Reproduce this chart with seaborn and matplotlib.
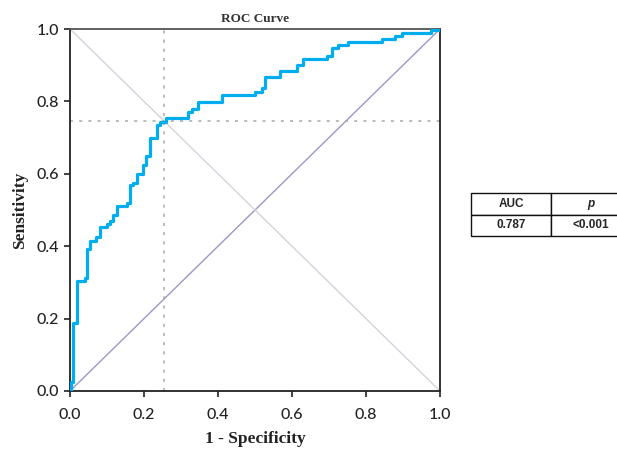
import matplotlib
matplotlib.use("Agg")
import matplotlib.pyplot as plt
import seaborn as sns
import pandas as pd

# ROC corner points (x = 1 - specificity, y = sensitivity)
fpr = [0.000, 0.003, 0.009, 0.018, 0.041, 0.045, 0.054, 0.070, 0.081, 0.099,
       0.108, 0.117, 0.126, 0.153, 0.162, 0.171, 0.180, 0.196, 0.205, 0.216,
       0.234, 0.243, 0.259, 0.320, 0.329, 0.347, 0.410, 0.500, 0.518, 0.527,
       0.568, 0.613, 0.631, 0.694, 0.707, 0.725, 0.752, 0.842, 0.878, 0.896,
       0.977, 1.000]
tpr = [0.000, 0.026, 0.189, 0.304, 0.311, 0.391, 0.415, 0.425, 0.454, 0.461,
       0.470, 0.486, 0.511, 0.518, 0.569, 0.575, 0.599, 0.624, 0.649, 0.698,
       0.735, 0.744, 0.753, 0.772, 0.778, 0.797, 0.818, 0.827, 0.836, 0.868,
       0.885, 0.901, 0.916, 0.925, 0.947, 0.956, 0.963, 0.971, 0.981, 0.988,
       0.997, 1.000]

# cut-off point shown with dotted guides
cut_x = 0.255
cut_y = 0.745

ticks = [0.0, 0.2, 0.4, 0.6, 0.8, 1.0]
tick_labels = ["0.0", "0.2", "0.4", "0.6", "0.8", "1.0"]

table_header = ["AUC", "p"]
table_values = ["0.787", "<0.001"]

roc = pd.DataFrame({"fpr": fpr, "tpr": tpr})

sns.set_style("white")
fig = plt.figure(figsize=(6.17, 4.5), dpi=100)
ax = fig.add_axes([70 / 617, 1 - 391 / 450, 370 / 617, 362 / 450])

# reference lines
ax.plot([0, 1], [0, 1], color="#9a98c8", lw=1.0, zorder=1)
ax.plot([0, 1], [1, 0], color="#d4d2dc", lw=1.0, zorder=1)
ax.axvline(cut_x, color="#a8a8a8", lw=1.1, ls=(0, (2, 4)), zorder=1)
ax.axhline(cut_y, color="#a8a8a8", lw=1.1, ls=(0, (2, 4)), zorder=1)

sns.lineplot(data=roc, x="fpr", y="tpr", ax=ax, color="#00aeef", lw=2.3,
             drawstyle="steps-post", estimator=None, sort=False, zorder=3)

ax.set_xlim(0, 1)
ax.set_ylim(0, 1)
ax.set_xticks(ticks)
ax.set_yticks(ticks)
ax.set_xticklabels(tick_labels, fontsize=11.5, family="Lato", fontweight="medium")
ax.set_yticklabels(tick_labels, fontsize=11.5, family="Lato", fontweight="medium")
ax.tick_params(axis="both", direction="out", length=4, width=1.2, color="#222222",
               bottom=True, left=True, labelcolor="#222222")
ax.tick_params(axis="x", pad=8)
ax.tick_params(axis="y", pad=4)
for side in ["left", "bottom", "right"]:
    ax.spines[side].set_color("#222222")
    ax.spines[side].set_linewidth(1.3)
ax.spines["top"].set_color("#555555")
ax.spines["top"].set_linewidth(1.3)

ax.set_xlabel("1 - Specificity", family="Liberation Serif", fontweight="bold",
              fontsize=12.5, color="#222222", labelpad=7)
ax.set_ylabel("Sensitivity", family="Liberation Serif", fontweight="bold",
              fontsize=12.5, color="#222222", labelpad=6)
ax.set_title("ROC Curve", family="Liberation Serif", fontweight="bold",
             fontsize=9.5, color="#333333", pad=5)

# AUC table on the right
tax = fig.add_axes([471 / 617, 1 - 236 / 450, 160 / 617, 43 / 450])
tax.axis("off")
tbl = tax.table(cellText=[table_header, table_values], cellLoc="center",
                bbox=[0, 0, 1, 1], colWidths=[80, 80])
tbl.auto_set_font_size(False)
for (r, c), cell in tbl.get_celld().items():
    cell.set_edgecolor("#111111")
    cell.set_linewidth(1.0)
    txt = cell.get_text()
    txt.set_fontsize(8.5)
    txt.set_fontweight("bold")
    txt.set_family("Liberation Sans")
    if r == 0 and c == 1:
        txt.set_fontstyle("italic")

fig.savefig("out.png", dpi=100)
